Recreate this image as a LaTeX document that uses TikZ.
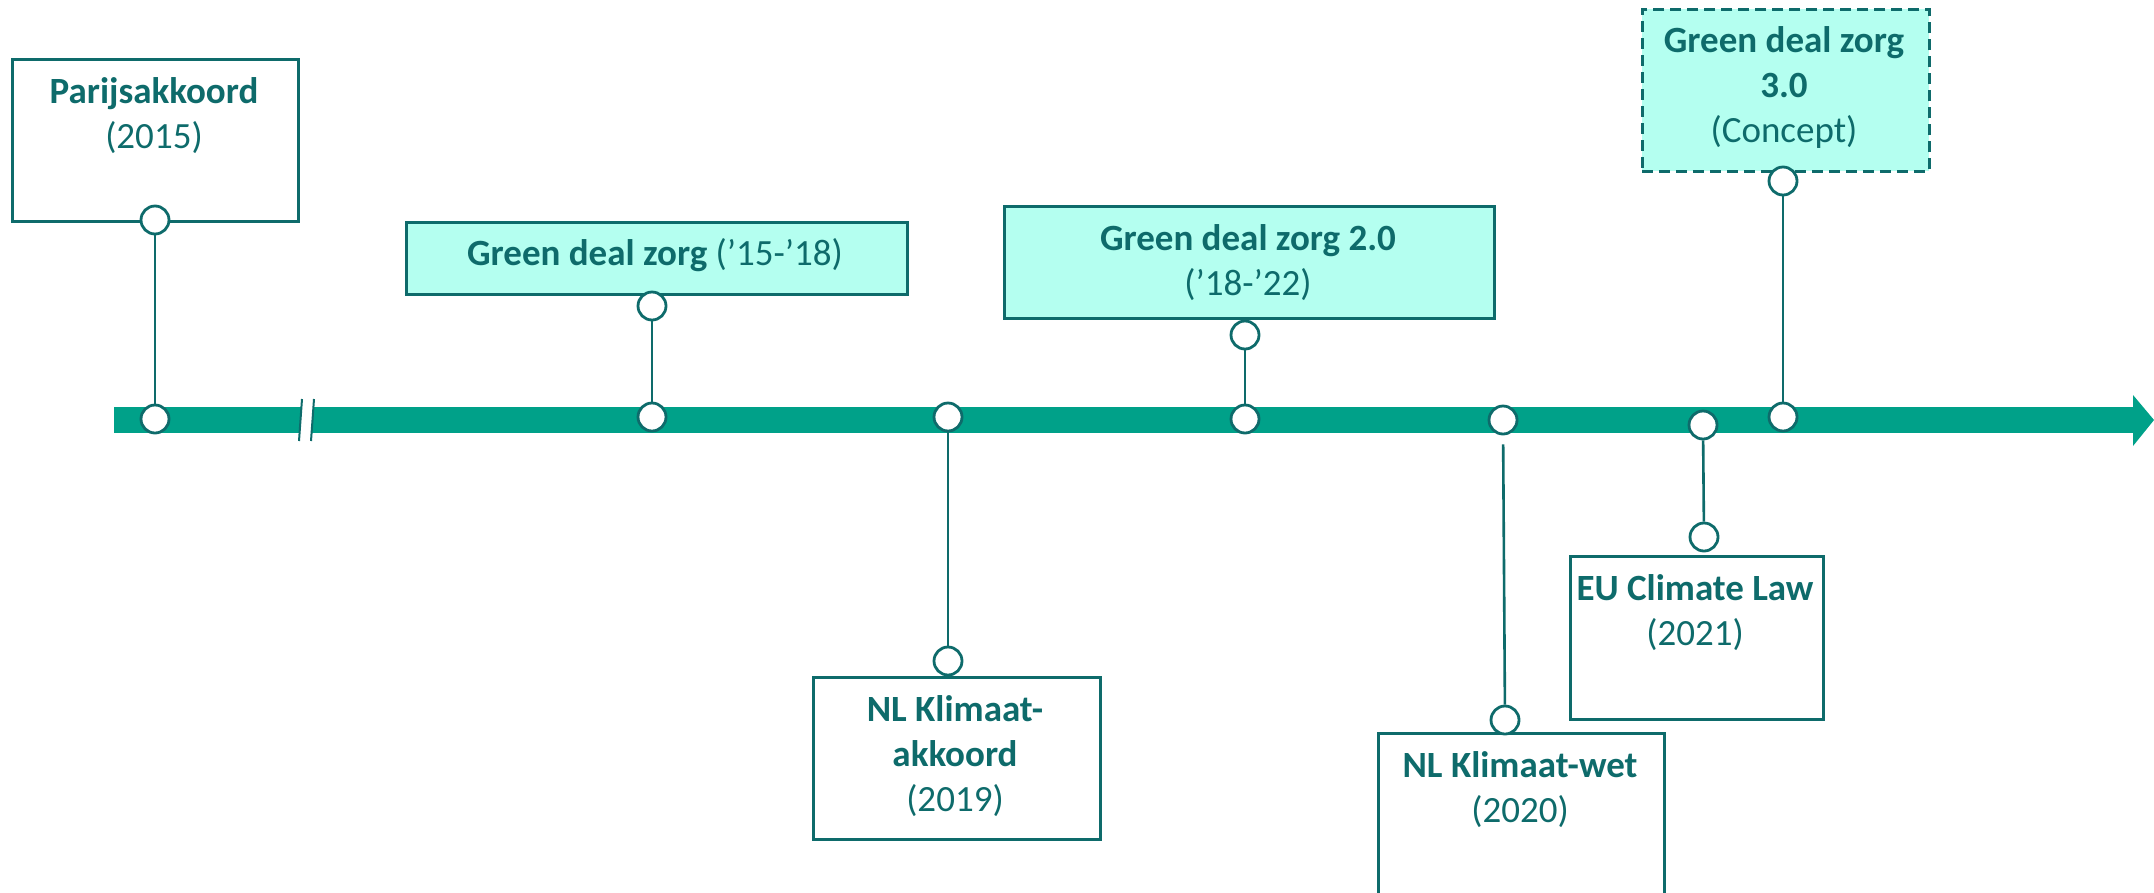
\documentclass[tikz,border=0pt]{standalone}
\usepackage{fontspec}
\setmainfont{Carlito}
\definecolor{tdark}{HTML}{0E6B6B}
\definecolor{barc}{HTML}{00A189}
\definecolor{fillc}{HTML}{B4FFF0}
\newcommand{\fst}{\rule{0pt}{32pt}}
\tikzset{
  evbox/.style={draw=tdark, line width=2.8pt, inner sep=0pt, anchor=north west, rectangle},
  hlbox/.style={evbox, fill=fillc},
  txt/.style={text=tdark, font=\fontsize{37}{45}\selectfont, align=center, inner sep=0pt, anchor=north},
  dot/.style={circle, draw=tdark, line width=2.8pt, fill=white, minimum size=28pt, inner sep=0pt},
  conn/.style={draw=tdark, line width=2.6pt}
}
\begin{document}
\begin{tikzpicture}[x=1pt,y=-1pt]
\useasboundingbox (0,0) rectangle (2154,892);
% timeline bar
\fill[barc] (114,407) rectangle (2133,433);
\fill[barc] (2133,395) -- (2154,420) -- (2133,446) -- cycle;
% break mark
\fill[white] (302,399) -- (314,399) -- (311,441) -- (299,441) -- cycle;
\draw[tdark, line width=2pt] (302,399) -- (299,441);
\draw[tdark, line width=2pt] (314,399) -- (311,441);
% boxes
\node[evbox, minimum width=286pt, minimum height=162pt] (parijs) at (11,58) {};
\node[hlbox, minimum width=501pt, minimum height=72pt] (gdz1) at (405,221) {};
\node[hlbox, minimum width=490pt, minimum height=112pt] (gdz2) at (1003,205) {};
\node[evbox, minimum width=287pt, minimum height=162pt] (nlka) at (812,676) {};
\node[evbox, minimum width=286pt, minimum height=250pt] (nlkw) at (1377,732) {};
\node[evbox, minimum width=253pt, minimum height=163pt] (eu) at (1569,555) {};
\node[hlbox, dashed, dash pattern=on 11pt off 6pt, minimum width=287pt, minimum height=162pt] (gdz3) at (1641,8) {};
% texts
\node[txt] (parijsT) at (154,71) {\fst\textbf{Parijsakkoord}\\(2015)};
\node[txt] (gdz1T) at (655,233) {\fst\textbf{Green deal zorg} (’15-’18)};
\node[txt] (gdz2T) at (1248,218) {\fst\textbf{Green deal zorg 2.0}\\(’18-’22)};
\node[txt] (nlkaT) at (955,689) {\fst\textbf{NL Klimaat-}\\\textbf{akkoord}\\(2019)};
\node[txt] (nlkwT) at (1520,745) {\fst\textbf{NL Klimaat-wet}\\(2020)};
\node[txt] (euT) at (1695,568) {\fst\textbf{EU Climate Law}\\(2021)};
\node[txt] (gdz3T) at (1784,20) {\fst\textbf{Green deal zorg}\\\textbf{3.0}\\(Concept)};
% circles
\node[dot] (b1) at (155,419) {};
\node[dot] (e1) at (155,220) {};
\node[dot] (b2) at (652,417) {};
\node[dot] (e2) at (652,306) {};
\node[dot] (b3) at (948,417) {};
\node[dot] (e3) at (948,661) {};
\node[dot] (b4) at (1245,419) {};
\node[dot] (e4) at (1245,335) {};
\node[dot] (b5) at (1503,420) {};
\node[dot] (e5) at (1505,720) {};
\node[dot] (b6) at (1703,425) {};
\node[dot] (e6) at (1704,537) {};
\node[dot] (b7) at (1783,417) {};
\node[dot] (e7) at (1783,181) {};
% connectors
\draw[conn] (b1) -- (e1);
\draw[conn] (b2) -- (e2);
\draw[conn] (b3) -- (e3);
\draw[conn] (b4) -- (e4);
\draw[conn, shorten <=9pt] (b5) -- (e5);
\draw[conn] (b6) -- (e6);
\draw[conn] (b7) -- (e7);
\end{tikzpicture}
\end{document}
